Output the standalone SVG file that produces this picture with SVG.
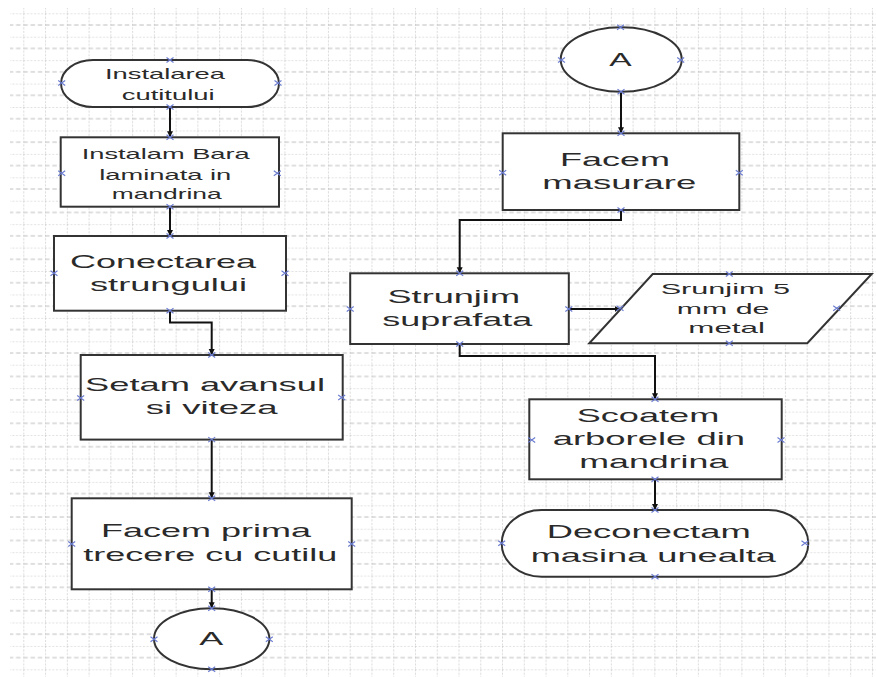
<svg xmlns="http://www.w3.org/2000/svg" xmlns:xlink="http://www.w3.org/1999/xlink" width="876" height="677" viewBox="0 0 876 677">
<style>
.node{fill:#fff;stroke:#333;stroke-width:2}
.t{font-family:"Liberation Sans",Arial,sans-serif;fill:#2a2a2a}
.s{font-size:15px}
.l{font-size:19px}
.conn{fill:none;stroke:#111;stroke-width:2}
.cp{fill:none;stroke:#6a7bd0;stroke-width:1.1}
</style>
<defs>
<pattern id="grid" patternUnits="userSpaceOnUse" x="23.3" y="13.3" width="21.76" height="23.43">
<line x1="0" y1="0" x2="0" y2="23.43" stroke="#b8b8b8" stroke-width="1" stroke-dasharray="2,1.5"/>
<line x1="0" y1="0" x2="21.76" y2="0" stroke="#c4c4c4" stroke-width="1" stroke-dasharray="2,1.6"/>
<line x1="0" y1="11.71" x2="21.76" y2="11.71" stroke="#bdbdbd" stroke-width="1" stroke-dasharray="4.5,2.75"/>
</pattern>
<marker id="arr" markerUnits="userSpaceOnUse" markerWidth="7" markerHeight="7" refX="6" refY="3.5" orient="auto">
<path d="M0,0.5 L6,3.5 L0,6.5 z" fill="#111"/>
</marker>
<path id="x" class="cp" d="M-3.5,-2.5 L3.5,2.5 M-3.5,2.5 L3.5,-2.5"/>
</defs>
<rect x="10" y="8" width="866" height="669" fill="url(#grid)"/>

<g id="connectors">
<path class="conn" marker-end="url(#arr)" d="M170,107 V137.3"/>
<path class="conn" marker-end="url(#arr)" d="M170,206.7 V236"/>
<path class="conn" marker-end="url(#arr)" d="M170,310.7 V322.5 H211.7 V355"/>
<path class="conn" marker-end="url(#arr)" d="M211.7,439.6 V498.3"/>
<path class="conn" marker-end="url(#arr)" d="M211.7,589.3 V608.3"/>
<path class="conn" marker-end="url(#arr)" d="M621,91.7 V133.3"/>
<path class="conn" marker-end="url(#arr)" d="M621,210 V220 H459.7 V273.3"/>
<path class="conn" marker-end="url(#arr)" d="M568.8,309 H620.5"/>
<path class="conn" marker-end="url(#arr)" d="M459.7,344 V356 H655 V399.3"/>
<path class="conn" marker-end="url(#arr)" d="M655,479.3 V510"/>
</g>

<g id="n1">
<rect class="node" x="61" y="60" width="218" height="47" rx="32" ry="23.5"/>
<text class="t s" x="105" y="79.3" textLength="120" lengthAdjust="spacingAndGlyphs">Instalarea</text>
<text class="t s" x="121.7" y="100" textLength="93" lengthAdjust="spacingAndGlyphs">cutitului</text>
</g>
<g id="n2">
<rect class="node" x="60.7" y="137.3" width="218.3" height="69.4"/>
<text class="t s" x="81.7" y="159.3" textLength="168" lengthAdjust="spacingAndGlyphs">Instalam Bara</text>
<text class="t s" x="99.3" y="180" textLength="132" lengthAdjust="spacingAndGlyphs">laminata in</text>
<text class="t s" x="111.7" y="199.3" textLength="110" lengthAdjust="spacingAndGlyphs">mandrina</text>
</g>
<g id="n3">
<rect class="node" x="54" y="236" width="232" height="74.7"/>
<text class="t l" x="70" y="267.7" textLength="186" lengthAdjust="spacingAndGlyphs">Conectarea</text>
<text class="t l" x="90" y="291" textLength="157" lengthAdjust="spacingAndGlyphs">strungului</text>
</g>
<g id="n4">
<rect class="node" x="80.7" y="355" width="262" height="84.6"/>
<text class="t l" x="85" y="391" textLength="240" lengthAdjust="spacingAndGlyphs">Setam avansul</text>
<text class="t l" x="145.7" y="414" textLength="132" lengthAdjust="spacingAndGlyphs">si viteza</text>
</g>
<g id="n5">
<rect class="node" x="71.7" y="498.3" width="280" height="91"/>
<text class="t l" x="101" y="537.3" textLength="210" lengthAdjust="spacingAndGlyphs">Facem prima</text>
<text class="t l" x="83.3" y="560.7" textLength="254" lengthAdjust="spacingAndGlyphs">trecere cu cutilu</text>
</g>
<g id="a1">
<ellipse class="node" cx="211.7" cy="638.8" rx="57.7" ry="30.5"/>
<text class="t l" x="199.3" y="645" textLength="24" lengthAdjust="spacingAndGlyphs">A</text>
</g>
<g id="a2">
<ellipse class="node" cx="621.2" cy="59.5" rx="60.5" ry="32.2"/>
<text class="t l" x="609.3" y="65.7" textLength="22.4" lengthAdjust="spacingAndGlyphs">A</text>
</g>
<g id="n6">
<rect class="node" x="502.7" y="133.3" width="236.6" height="76.7"/>
<text class="t l" x="560" y="165.7" textLength="110" lengthAdjust="spacingAndGlyphs">Facem</text>
<text class="t l" x="542.3" y="189" textLength="154" lengthAdjust="spacingAndGlyphs">masurare</text>
</g>
<g id="n7">
<rect class="node" x="350.2" y="273.3" width="218.6" height="70.7"/>
<text class="t l" x="387.5" y="303.3" textLength="132.5" lengthAdjust="spacingAndGlyphs">Strunjim</text>
<text class="t l" x="382.3" y="325.5" textLength="150" lengthAdjust="spacingAndGlyphs">suprafata</text>
</g>
<g id="n8">
<polygon class="node" points="652.7,274 871.7,274 807.3,343.3 589.3,343.3"/>
<text class="t s" x="660.7" y="294.3" textLength="129.3" lengthAdjust="spacingAndGlyphs">Srunjim 5</text>
<text class="t s" x="676.7" y="314.3" textLength="92.7" lengthAdjust="spacingAndGlyphs">mm de</text>
<text class="t s" x="688.3" y="333.3" textLength="76.7" lengthAdjust="spacingAndGlyphs">metal</text>
</g>
<g id="n9">
<rect class="node" x="529.3" y="399.3" width="252.4" height="80"/>
<text class="t l" x="576.7" y="421.7" textLength="142.6" lengthAdjust="spacingAndGlyphs">Scoatem</text>
<text class="t l" x="552.7" y="445" textLength="192.3" lengthAdjust="spacingAndGlyphs">arborele din</text>
<text class="t l" x="579.3" y="468.3" textLength="149" lengthAdjust="spacingAndGlyphs">mandrina</text>
</g>
<g id="n10">
<rect class="node" x="501.7" y="510" width="306.6" height="66.7" rx="40" ry="33.3"/>
<text class="t l" x="546.7" y="538.3" textLength="204" lengthAdjust="spacingAndGlyphs">Deconectam</text>
<text class="t l" x="530.7" y="561.7" textLength="245.3" lengthAdjust="spacingAndGlyphs">masina unealta</text>
</g>

<g id="connection-points">
<use xlink:href="#x" x="170" y="60"/><use xlink:href="#x" x="61.7" y="83"/><use xlink:href="#x" x="278" y="83"/><use xlink:href="#x" x="170" y="107"/>
<use xlink:href="#x" x="170" y="137.3"/><use xlink:href="#x" x="61.7" y="173.3"/><use xlink:href="#x" x="277.3" y="173.3"/><use xlink:href="#x" x="170" y="206.7"/>
<use xlink:href="#x" x="170" y="236"/><use xlink:href="#x" x="54" y="273.3"/><use xlink:href="#x" x="285" y="273.3"/><use xlink:href="#x" x="170" y="310.7"/>
<use xlink:href="#x" x="211.7" y="355"/><use xlink:href="#x" x="80.7" y="398"/><use xlink:href="#x" x="341.7" y="397.5"/><use xlink:href="#x" x="211.7" y="439.6"/>
<use xlink:href="#x" x="211.7" y="498.3"/><use xlink:href="#x" x="71.7" y="544"/><use xlink:href="#x" x="351.7" y="544"/><use xlink:href="#x" x="211.7" y="589.3"/>
<use xlink:href="#x" x="211.7" y="608.3"/><use xlink:href="#x" x="154" y="639.3"/><use xlink:href="#x" x="269.3" y="639.3"/><use xlink:href="#x" x="211.7" y="669.3"/>
<use xlink:href="#x" x="620.5" y="27.3"/><use xlink:href="#x" x="561.5" y="60"/><use xlink:href="#x" x="680.7" y="60"/><use xlink:href="#x" x="621" y="91.7"/>
<use xlink:href="#x" x="621" y="133.3"/><use xlink:href="#x" x="502.7" y="172.7"/><use xlink:href="#x" x="739.3" y="172.7"/><use xlink:href="#x" x="621" y="210"/>
<use xlink:href="#x" x="459.7" y="273.3"/><use xlink:href="#x" x="350.2" y="309"/><use xlink:href="#x" x="568.8" y="309"/><use xlink:href="#x" x="459.7" y="344"/>
<use xlink:href="#x" x="729.3" y="274"/><use xlink:href="#x" x="620" y="308.3"/><use xlink:href="#x" x="836.7" y="308.3"/><use xlink:href="#x" x="729.3" y="343.3"/>
<use xlink:href="#x" x="655" y="399.3"/><use xlink:href="#x" x="531.7" y="440"/><use xlink:href="#x" x="781" y="440"/><use xlink:href="#x" x="655" y="479.3"/>
<use xlink:href="#x" x="655" y="510"/><use xlink:href="#x" x="501.7" y="543.3"/><use xlink:href="#x" x="805" y="543.3"/><use xlink:href="#x" x="655" y="576.7"/>
</g>
</svg>
